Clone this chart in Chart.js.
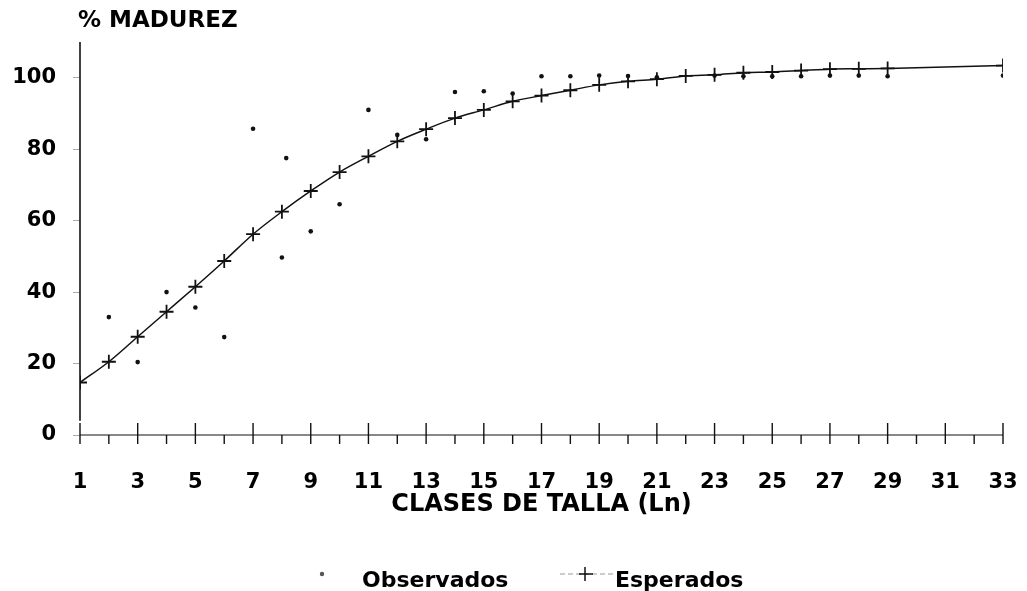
<!DOCTYPE html>
<html>
<head>
<meta charset="utf-8">
<script src="https://cdn.jsdelivr.net/npm/chart.js@4/dist/chart.umd.min.js"></script>
<style>
  html, body { margin: 0; padding: 0; background: #fff; }
  #wrap { width: 1027px; height: 591px; }
</style>
</head>
<body>
<div id="wrap"><canvas id="grafico" width="1027" height="591"></canvas></div>
<script>
// Clases de talla (Ln) y marcas del eje
const clases = [1,2,3,4,5,6,7,8,9,10,11,12,13,14,15,16,17,18,19,20,21,22,23,24,25,26,27,28,29,30,31,32,33];
const etiquetasX = [1,3,5,7,9,11,13,15,17,19,21,23,25,27,29,31,33];
const etiquetasY = [0,20,40,60,80,100];

// % de madurez esperado (curva ajustada); sin valor en 30-32
const tallaEsperada = [1,2,3,4,5,6,7,8,9,10,11,12,13,14,15,16,17,18,19,20,21,22,23,24,25,26,27,28,29,30,31,32,33];
const esperados = [14.7,20.5,27.5,34.5,41.5,48.7,56.2,62.5,68.3,73.6,78.0,82.2,85.6,88.7,91.0,93.4,95.0,96.5,98.0,99.0,99.6,100.5,100.8,101.4,101.6,102.0,102.4,102.5,102.6,null,null,null,103.4];

// % de madurez observado
const tallaObservada = [2,3,4,5,6,7,8,8.15,9,10,11,12,13,14,15,16,17,18,19,20,21,23,24,25,26,27,28,29,33];
const observados = [33.0,20.4,40.0,35.7,27.4,85.7,49.7,77.5,57.0,64.6,91.0,84.0,82.8,96.0,96.2,95.6,100.4,100.4,100.6,100.5,100.1,100.6,100.4,100.4,100.4,100.6,100.6,100.4,100.6];

const FUENTE = 'DejaVu Sans';
const TINTA = '#111';

// Ejes dibujados a mano: línea vertical, línea del cero con cruces y título superior
const ejes = {
  id: 'ejes',
  beforeDatasetsDraw(chart) {
    const { ctx, chartArea, scales: { x, y } } = chart;
    const y0 = y.getPixelForValue(0);
    ctx.save();
    ctx.strokeStyle = TINTA;
    ctx.lineWidth = 1.6;
    ctx.beginPath();
    ctx.moveTo(chartArea.left, chartArea.top);
    ctx.lineTo(chartArea.left, y.getPixelForValue(4));
    ctx.stroke();

    ctx.lineWidth = 1;
    ctx.beginPath();
    ctx.moveTo(x.getPixelForValue(clases[0]), y0);
    ctx.lineTo(x.getPixelForValue(clases[clases.length - 1]), y0);
    ctx.stroke();

    ctx.lineWidth = 1.4;
    clases.forEach(c => {
      const px = x.getPixelForValue(c);
      ctx.beginPath();
      if (etiquetasX.includes(c)) {
        ctx.moveTo(px, y0 - 12);
        ctx.lineTo(px, y0 + 9);
      } else {
        ctx.moveTo(px, y0);
        ctx.lineTo(px, y0 + 9);
      }
      ctx.stroke();
    });
    ctx.restore();
  },
  afterDraw(chart) {
    const { ctx, chartArea } = chart;
    ctx.save();
    ctx.fillStyle = '#000';
    ctx.font = 'bold 23px "' + FUENTE + '"';
    ctx.textBaseline = 'middle';
    ctx.textAlign = 'left';
    ctx.fillText('% MADUREZ', chartArea.left - 2, 21);

    // Leyenda inferior
    const ds = chart.data.datasets;
    const yl = 574;
    ctx.font = 'bold 22px "' + FUENTE + '"';
    ctx.fillStyle = '#555';
    ctx.beginPath();
    ctx.arc(322, yl, 2.2, 0, Math.PI * 2);
    ctx.fill();
    ctx.fillStyle = '#000';
    ctx.fillText(ds[0].label, 362, yl + 7);

    ctx.strokeStyle = '#999';
    ctx.lineWidth = 1;
    ctx.setLineDash([5, 3]);
    ctx.beginPath();
    ctx.moveTo(560, yl);
    ctx.lineTo(613, yl);
    ctx.stroke();
    ctx.setLineDash([]);
    ctx.strokeStyle = TINTA;
    ctx.lineWidth = 1.5;
    ctx.beginPath();
    ctx.moveTo(585, yl - 7); ctx.lineTo(585, yl + 7);
    ctx.moveTo(579, yl); ctx.lineTo(593, yl);
    ctx.stroke();
    ctx.fillText(ds[1].label, 615, yl + 7);
    ctx.restore();
  }
};

const fuenteEje = { family: FUENTE, weight: 'bold', size: 21 };

new Chart(document.getElementById('grafico'), {
  type: 'scatter',
  data: {
    datasets: [
      {
        label: 'Observados',
        data: tallaObservada.map((t, i) => ({ x: t, y: observados[i] })),
        showLine: false,
        pointStyle: 'circle',
        pointRadius: 2.3,
        pointBorderWidth: 0,
        pointBackgroundColor: TINTA,
        pointBorderColor: TINTA
      },
      {
        label: 'Esperados',
        data: tallaEsperada.map((t, i) => ({ x: t, y: esperados[i] })),
        showLine: true,
        spanGaps: true,
        borderColor: TINTA,
        borderWidth: 1.5,
        cubicInterpolationMode: 'monotone',
        pointStyle: 'cross',
        pointRadius: 7,
        pointBorderWidth: 1.8,
        pointBorderColor: TINTA,
        pointBackgroundColor: TINTA
      }
    ]
  },
  options: {
    responsive: false,
    animation: false,
    events: [],
    layout: { padding: { top: 42, right: 24, bottom: 72, left: 0 } },
    plugins: { legend: { display: false }, tooltip: { enabled: false } },
    scales: {
      x: {
        type: 'linear',
        min: clases[0],
        max: clases[clases.length - 1],
        afterBuildTicks: s => { s.ticks = etiquetasX.map(v => ({ value: v })); },
        afterFit: s => { s.height = 84; },
        grid: { display: true, drawOnChartArea: false, drawTicks: true, tickLength: 32, color: 'rgba(0,0,0,0)' },
        border: { display: false },
        ticks: { padding: 3, color: '#000', font: fuenteEje, autoSkip: false, maxRotation: 0 },
        title: {
          display: true,
          text: 'CLASES DE TALLA (Ln)',
          color: '#000',
          font: { family: FUENTE, weight: 'bold', size: 24 },
          padding: { top: 0, bottom: 0 }
        }
      },
      y: {
        min: 0,
        max: 110,
        afterBuildTicks: s => { s.ticks = etiquetasY.map(v => ({ value: v })); },
        afterFit: s => { s.width = 80; },
        grid: { drawOnChartArea: false, drawTicks: true, tickLength: 7, color: '#aaa' },
        border: { display: false },
        ticks: { padding: 17, color: '#000', font: fuenteEje }
      }
    }
  },
  plugins: [ejes]
});
</script>
</body>
</html>
